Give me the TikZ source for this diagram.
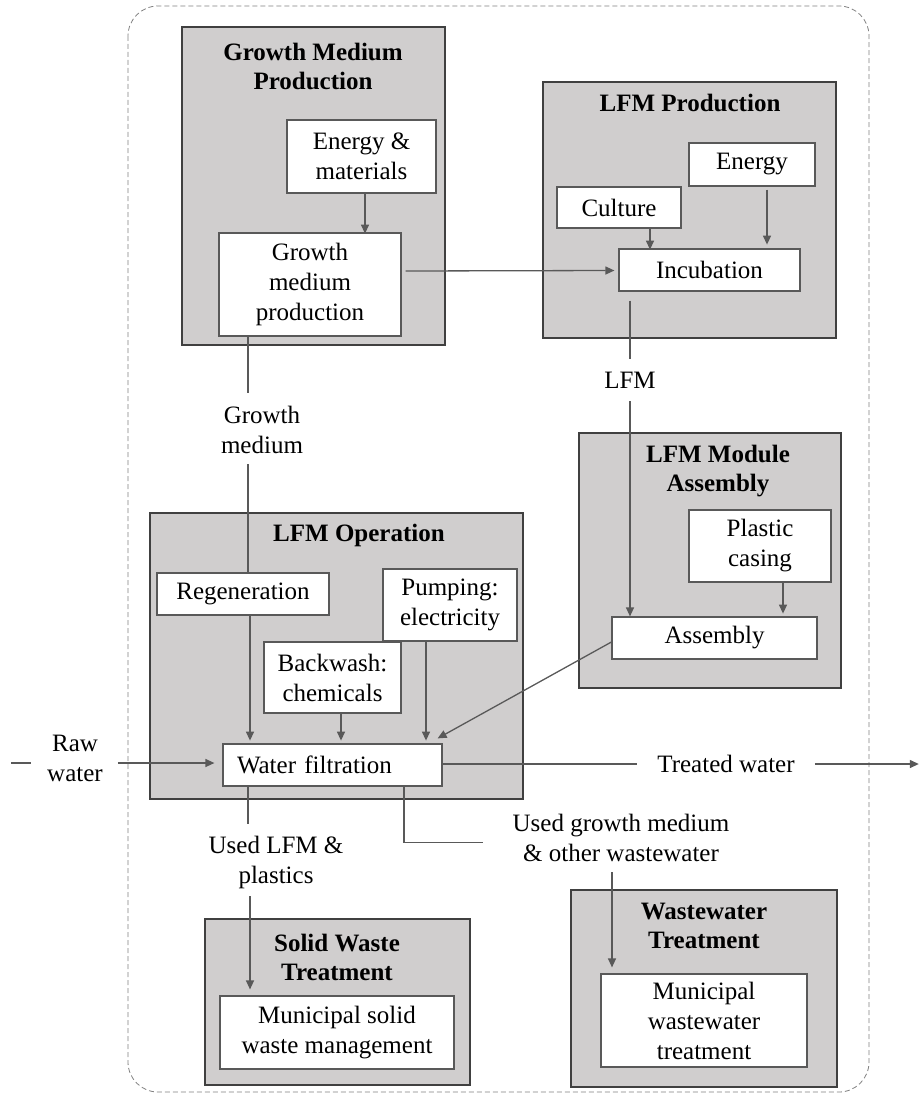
\documentclass[tikz,border=0pt]{standalone}
\usepackage{fontspec}
\setmainfont{Liberation Serif}
\usetikzlibrary{calc,arrows.meta}
\definecolor{boxgray}{RGB}{208,206,206}
\definecolor{framec}{RGB}{64,64,64}
\definecolor{edgec}{RGB}{89,89,89}
\definecolor{dashc}{RGB}{128,128,128}
\begin{document}
\begin{tikzpicture}[x=1pt,y=-1pt,
  font=\fontsize{25}{30}\selectfont,
  group/.style={draw=framec,line width=2.6pt,fill=boxgray,inner sep=0pt},
  proc/.style={draw=edgec,line width=1.2pt,fill=white,inner sep=0pt,align=center},
  ttl/.style={font=\fontsize{25}{29}\selectfont\bfseries,align=center,inner sep=0pt},
  lbl/.style={align=center,inner sep=0pt},
  conn/.style={draw=edgec,line width=1.3pt},
  arr/.style={conn,-{Triangle[length=9pt,width=8pt]}},
]
\useasboundingbox (0,0) rectangle (920,1097);
% system boundary
\draw[dashc,line width=0.8pt,dash pattern=on 5pt off 3pt,rounded corners=30pt] (128,6) rectangle (869,1092);

% groups
\node[group,minimum width=263pt,minimum height=318pt] (gmpG) at (313.5,186) {};
\node[group,minimum width=293pt,minimum height=256pt] (lfmpG) at (689.5,210) {};
\node[group,minimum width=262pt,minimum height=255pt] (lmaG) at (710,560.5) {};
\node[group,minimum width=373pt,minimum height=286pt] (lfmoG) at (336.5,656) {};
\node[group,minimum width=265pt,minimum height=166pt] (swtG) at (337.5,1002) {};
\node[group,minimum width=266pt,minimum height=197pt] (wwtG) at (704,988.5) {};

% titles
\node[ttl] (gmpT) at (313,66) {Growth Medium\\Production};
\node[ttl] (lfmpT) at (690,103) {LFM Production};
\node[ttl] (lmaT) at (718,471) {LFM Module\\Assembly};
\node[ttl] (lfmoT) at (359,535) {LFM Operation};
\node[ttl] (swtT) at (337,957.5) {Solid Waste\\Treatment};
\node[ttl] (wwtT) at (704,925.5) {Wastewater\\Treatment};

% process boxes
\node[proc,minimum width=149pt,minimum height=73pt] (em) at (361.5,156.5) {Energy \&\\materials};
\node[proc,minimum width=182pt,minimum height=103pt] (gm) at (310,284.5) {Growth\\medium\\production};
\node[proc,minimum width=126pt,minimum height=43pt] (en) at (752,164.5) {Energy};
\node[proc,minimum width=124pt,minimum height=41pt] (cul) at (619,207.5) {Culture};
\node[proc,minimum width=181pt,minimum height=42pt] (inc) at (709.5,270) {Incubation};
\node[proc,minimum width=142pt,minimum height=72pt] (pc) at (760,546) {Plastic\\casing};
\node[proc,minimum width=205pt,minimum height=42pt] (asm) at (714.5,638) {Assembly};
\node[proc,minimum width=172pt,minimum height=42pt] (reg) at (243,594) {Regeneration};
\node[proc,minimum width=134pt,minimum height=72pt] (pump) at (450,605) {Pumping:\\electricity};
\node[proc,minimum width=137pt,minimum height=71pt] (bw) at (332.5,677.5) {Backwash:\\chemicals};
\node[proc,minimum height=42pt,text width=191pt,align=left,inner xsep=14pt] (wf) at (332.5,765) {Water filtration};
\node[proc,minimum width=234pt,minimum height=73pt] (msw) at (337,1032.5) {Municipal solid\\waste management};
\node[proc,minimum width=206pt,minimum height=93pt] (mww) at (704,1020.5) {Municipal\\wastewater\\treatment};

% free labels
\node[lbl] (gml) at (262,430) {Growth\\medium};
\node[lbl,inner ysep=13pt] (lfm) at (630,380) {LFM};
\node[lbl] (raw) at (75,758) {Raw\\water};
\node[lbl,inner xsep=20pt] (tw) at (726,764) {Treated water};
\node[lbl] (ugm) at (621,838) {Used growth medium\\\& other wastewater};
\node[lbl] (ulfm) at (276,862) {Used LFM \&\\plastics};

% connectors
\draw[arr] ($(em.south)+(3.5,0)$) -- ++(0,40);
\draw[arr] ($(gm.east)+(4,-13.5)$) -- ($(inc.west)+(-4,0.5)$);
\draw[arr] ($(cul.south)+(31,0)$) -- ++(0,21);
\draw[arr] ($(en.south)+(15,3)$) -- ++(0,55);
\draw[conn] ($(inc.south)+(-79.5,9)$) -- (lfm.north);
\draw[arr] (lfm.south) -- (lfm.south |- asm.north);
\draw[arr] ($(pc.south)+(23,0)$) -- ++(0,31);
\draw[conn] ($(gm.south)+(-62,0)$) -- ++(0,56);
\draw[conn] ($(reg.north)+(5,-108)$) -- ($(reg.north)+(5,0)$);
\draw[arr] ($(reg.south)+(7,0)$) -- ++(0,125);
\draw[arr] ($(bw.south)+(8.5,0)$) -- ++(0,27);
\draw[arr] ($(pump.south)+(-24,0)$) -- ++(0,99);
\draw[arr] ($(asm.west)+(0,4)$) -- ($(wf.north east)+(-5,-5)$);
\draw[conn] ($(raw.west)+(-36,5)$) -- ++(20,0);
\draw[arr] ($(raw.east)+(15,5)$) -- ($(wf.west)+(-8,-2)$);
\draw[conn] ($(wf.east)+(0,-1)$) -- (tw.west);
\draw[arr] (tw.east) -- ++(104,0);
\draw[conn] ($(wf.south)+(71.5,0)$) -- ++(0,56) -- ++(79,0);
\draw[arr] ($(mww.north)+(-92,-101)$) -- ($(mww.north)+(-92,-6)$);
\draw[conn] ($(wf.south)+(-84.5,0)$) -- ++(0,37);
\draw[arr] ($(msw.north)+(-87,-99)$) -- ($(msw.north)+(-87,-6)$);
\end{tikzpicture}
\end{document}
